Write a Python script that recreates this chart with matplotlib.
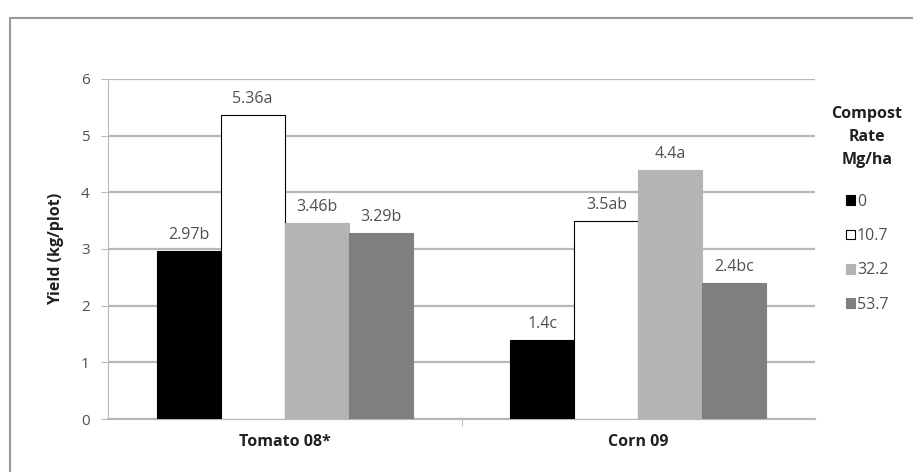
import matplotlib.pyplot as plt
import matplotlib.patches as mpatches
import numpy as np

crops = ['Tomato 08*', 'Corn 09']
rates = ['0', '10.7', '32.2', '53.7']
yields = {
    '0':    [2.97, 1.4],
    '10.7': [5.36, 3.5],
    '32.2': [3.46, 4.4],
    '53.7': [3.29, 2.4],
}
letters = {
    '0':    ['2.97b', '1.4c'],
    '10.7': ['5.36a', '3.5ab'],
    '32.2': ['3.46b', '4.4a'],
    '53.7': ['3.29b', '2.4bc'],
}
colors = ['#000000', '#ffffff', '#b4b4b4', '#7f7f7f']

plt.rcParams['font.family'] = ['Open Sans', 'DejaVu Sans']

fig = plt.figure(figsize=(9.13, 4.72), dpi=100)
ax = fig.add_axes([0.118, 0.112, 0.775, 0.721])

# outer chart frame
fig.patches.append(mpatches.Rectangle((10/913, -0.01), 1.0, (472-18)/472 + 0.01,
                                      transform=fig.transFigure, fill=False,
                                      edgecolor='#9a9a9a', linewidth=1.5))

x = np.arange(len(crops))
w = 0.181
for i, r in enumerate(rates):
    pos = x + (i - 1.5) * w
    ax.bar(pos, yields[r], width=w, color=colors[i],
           edgecolor='#000000' if i < 2 else colors[i], linewidth=0.8,
           label=r, zorder=3)
    for px, v, t in zip(pos, yields[r], letters[r]):
        ax.text(px, v + 0.14, t, ha='center', va='bottom', fontsize=11.5,
                color='#505050')

ax.set_xlim(-0.5, 1.5)
ax.set_ylim(0, 6)
ax.set_yticks(range(7))
ax.yaxis.grid(True, color='#b8b8b8', linewidth=1.6, zorder=0)
ax.set_axisbelow(True)
for s in ['top', 'right']:
    ax.spines[s].set_visible(False)
ax.spines['left'].set_color('#b8b8b8')
ax.spines['bottom'].set_color('#b8b8b8')
ax.spines['bottom'].set_linewidth(1.6)
ax.tick_params(axis='y', length=5, color='#b8b8b8', labelsize=11,
               labelcolor='#505050', pad=8)
ax.set_xticks(x)
ax.set_xticklabels(crops, fontsize=11.5, fontweight='bold', color='#202020')
ax.set_xticks([0.5], minor=True)
ax.tick_params(axis='x', which='major', length=0, pad=11)
ax.tick_params(axis='x', which='minor', length=5, color='#b8b8b8')
ax.set_ylabel('Yield (kg/plot)', fontsize=11.5, fontweight='bold',
              color='#202020', labelpad=12)

# legend title drawn separately so entries sit indented under it
fig.text(867/913, (472-137)/472, 'Compost\nRate\nMg/ha', ha='center',
         va='center', multialignment='center', fontsize=11.5,
         fontweight='bold', color='#202020', linespacing=1.6)

leg = ax.legend(loc='upper left', bbox_to_anchor=(1.025, 0.70), frameon=False,
                fontsize=11.5, handlelength=0.55, handleheight=0.55,
                handletextpad=0.15, labelspacing=1.15, borderpad=0.3)
for t in leg.get_texts():
    t.set_color('#505050')

fig.savefig('out.png', dpi=100)
